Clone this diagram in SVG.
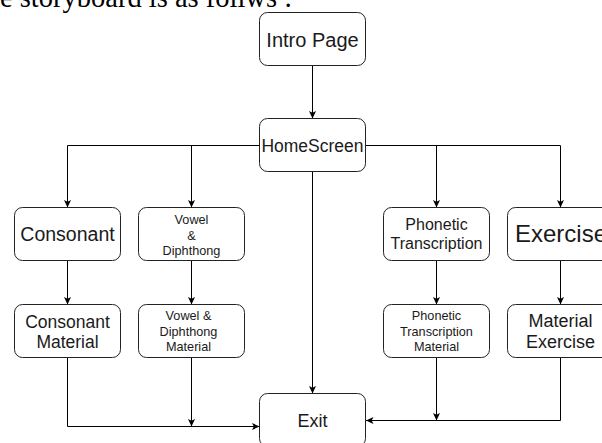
<svg xmlns="http://www.w3.org/2000/svg" width="602" height="443" viewBox="0 0 602 443">
<defs>
<marker id="arr" markerWidth="8" markerHeight="8" viewBox="0 0 8 8" refX="7.5" refY="4" orient="auto" markerUnits="userSpaceOnUse">
<path d="M0,0.5 L7.5,4 L0,7.5 L1.8,4 Z" fill="#000"/>
</marker>
<style>
.box{fill:#fff;stroke:#222;stroke-width:1}
.t{font-family:"Liberation Sans",Arial,sans-serif;fill:#1a1a1a;text-anchor:middle}
.c{fill:none;stroke:#000;stroke-width:1}
.ca{fill:none;stroke:#000;stroke-width:1;marker-end:url(#arr)}
</style>
</defs>
<rect width="602" height="443" fill="#fff"/>
<text x="0" y="6.5" font-family="'Liberation Serif','Times New Roman',serif" font-size="28.5" fill="#000">e storyboard is as follws :</text>

<g id="connectors">
<path class="ca" d="M312.5 65.5 V118.5"/>
<path class="ca" d="M259.5 145.5 H67.5 V207.5"/>
<path class="ca" d="M259.5 145.5 H191.5 V207.5"/>
<path class="ca" d="M365.5 145.5 H436.5 V207.5"/>
<path class="ca" d="M365.5 145.5 H560.5 V207.5"/>
<path class="ca" d="M312.5 171.5 V393.5"/>
<path class="ca" d="M67.5 260.5 V304.5"/>
<path class="ca" d="M191.5 260.5 V304.5"/>
<path class="ca" d="M436.5 260.5 V304.5"/>
<path class="ca" d="M560.5 260.5 V304.5"/>
<path class="ca" d="M67.5 357.5 V426.5 H259.5"/>
<path class="ca" d="M191.5 357.5 V426.5"/>
<path class="ca" d="M436.5 357.5 V420.5"/>
<path class="ca" d="M560.5 357.5 V420.5 H366"/>
</g>

<g id="intro">
<rect class="box" x="259.5" y="12.5" width="106" height="53" rx="8"/>
<text class="t" x="312.5" y="46.5" font-size="20">Intro Page</text>
</g>
<g id="homescreen">
<rect class="box" x="259.5" y="118.5" width="106" height="53" rx="8"/>
<text class="t" x="312.5" y="152" font-size="17.5">HomeScreen</text>
</g>
<g id="consonant">
<rect class="box" x="14.5" y="207.5" width="106" height="53" rx="8"/>
<text class="t" x="67.5" y="240.5" font-size="19.5">Consonant</text>
</g>
<g id="vowel">
<rect class="box" x="138.5" y="207.5" width="106" height="53" rx="8"/>
<text class="t" x="191.5" font-size="12.7"><tspan x="191.5" y="224">Vowel</tspan><tspan x="191.5" y="239.5">&amp;</tspan><tspan x="191.5" y="255">Diphthong</tspan></text>
</g>
<g id="phonetic">
<rect class="box" x="383.5" y="207.5" width="106" height="53" rx="8"/>
<text class="t" x="436.5" font-size="16"><tspan x="436.5" y="230">Phonetic</tspan><tspan x="436.5" y="249.3">Transcription</tspan></text>
</g>
<g id="exercise">
<rect class="box" x="507.5" y="207.5" width="106" height="53" rx="8"/>
<text class="t" x="561" y="241.7" font-size="24">Exercise</text>
</g>
<g id="consonant-material">
<rect class="box" x="14.5" y="304.5" width="106" height="53" rx="8"/>
<text class="t" x="67.5" font-size="17.5"><tspan x="67.5" y="327.5">Consonant</tspan><tspan x="67.5" y="348">Material</tspan></text>
</g>
<g id="vowel-material">
<rect class="box" x="138.5" y="304.5" width="106" height="53" rx="8"/>
<text class="t" x="188.5" font-size="12.7"><tspan x="188.5" y="320">Vowel &amp;</tspan><tspan x="188.5" y="336">Diphthong</tspan><tspan x="188.5" y="351.3">Material</tspan></text>
</g>
<g id="phonetic-material">
<rect class="box" x="383.5" y="304.5" width="106" height="53" rx="8"/>
<text class="t" x="436.5" font-size="12.7"><tspan x="436.5" y="320">Phonetic</tspan><tspan x="436.5" y="336">Transcription</tspan><tspan x="436.5" y="351.3">Material</tspan></text>
</g>
<g id="material-exercise">
<rect class="box" x="507.5" y="304.5" width="106" height="53" rx="8"/>
<text class="t" x="560.5" font-size="18"><tspan x="560.5" y="326.7">Material</tspan><tspan x="560.5" y="348.3">Exercise</tspan></text>
</g>
<g id="exit">
<rect class="box" x="259.5" y="393.5" width="106" height="53" rx="8"/>
<text class="t" x="312.5" y="426.7" font-size="18">Exit</text>
</g>
</svg>
